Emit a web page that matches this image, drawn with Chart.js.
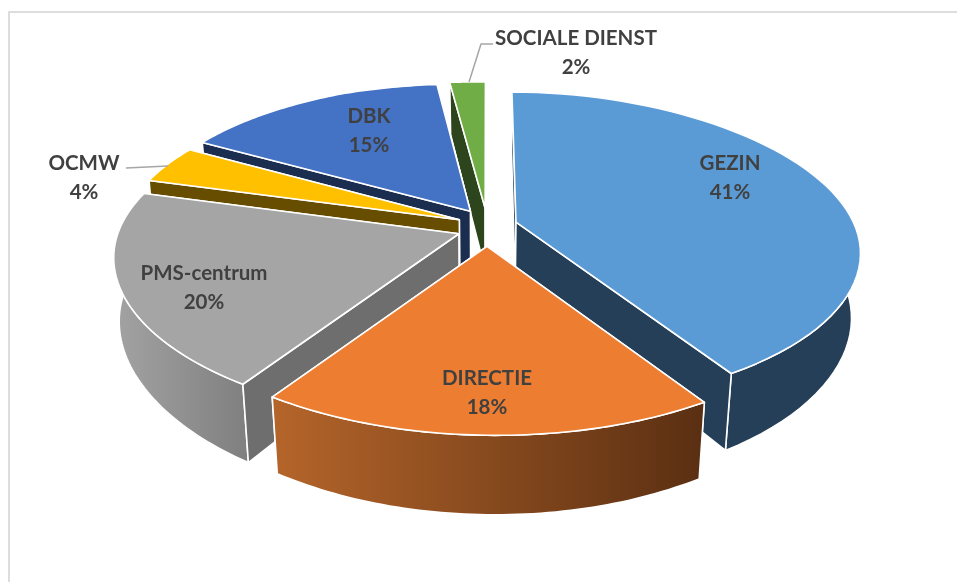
<!DOCTYPE html>
<html>
<head>
<meta charset="utf-8">
<title>Pie 3D</title>
<script src="https://cdn.jsdelivr.net/npm/chart.js@4"></script>
<style>
html, body { margin: 0; padding: 0; background: #fff; }
canvas { display: block; }
</style>
</head>
<body>
<canvas id="myChart" width="957" height="582"></canvas>
<script>
var categories = ['GEZIN', 'DIRECTIE', 'PMS-centrum', 'OCMW', 'DBK', 'SOCIALE DIENST'];
var shares = [41, 18, 20, 4, 15, 2];
var topColors = ['#5B9BD5', '#ED7D31', '#A5A5A5', '#FFC000', '#4472C4', '#70AD47'];

// colours of the sides: rim from left to right, and the cut faces
var rimColors = [['#243F57', '#243F57'], ['#B5652A', '#5A2F12'], ['#A3A3A3', '#7F7F7F'], ['#664D00', '#664D00'], ['#1B2E50', '#1B2E50'], ['#2C451C', '#2C451C']];
var cutColors = ['#243F57', '#5A2F12', '#6E6E6E', '#664D00', '#1B2E50', '#2C451C'];

// centre of each label, first line
var labelSpots = [[730, 163], [487, 378], [204, 273], [84, 163], [369, 116], [576, 38]];

var tilt = 150 / 337;      // vertical squash of the pie plate
var explodeX = 0.089;      // slice explosion, in radii
var explodeY = 0.127;
var perspX = 0.164;
var perspY = 0.184;
var depth = 63;            // wall height at the centre
var shrink = 0.024;        // bottom face is a bit narrower
var stretchRight = 1.012;  // camera sits a little off centre
var skew = 0.012;
var sag = 5;
var frontLift = [6, 0, 6, 0, 0, 0];  // the two big side slices reach further forward

function project(arc, pu, pv, z, lift) {
    var fx = 1 / (1 - perspX * pv);
    var fy = 1 / (1 - perspY * pv);
    var wide = pu > 0 ? stretchRight : 1;
    var narrow = pu > 0 ? shrink : shrink * (0.5 + 0.5 * Math.min(Math.abs(pv), 1));
    var dx = arc.outerRadius * pu * fx * wide;
    return {
        x: arc.x + dx * (1 - narrow * z),
        y: arc.y + arc.outerRadius * tilt * pv * fy + z * depth * fy + skew * dx + sag * Math.max(1 - pv * pv, 0) + lift * (1 + z * 0.7)
    };
}

function tracePoints(ctx, pts) {
    ctx.beginPath();
    pts.forEach(function (p, i) {
        if (i === 0) ctx.moveTo(p.x, p.y);
        else ctx.lineTo(p.x, p.y);
    });
    ctx.closePath();
}

function paint(ctx, pts, fill) {
    tracePoints(ctx, pts);
    ctx.fillStyle = fill;
    ctx.fill();
    ctx.strokeStyle = '#fff';
    ctx.lineWidth = 1.6;
    ctx.lineJoin = 'round';
    ctx.stroke();
}

function area(pts) {
    var s = 0;
    pts.forEach(function (p, i) {
        var q = pts[(i + 1) % pts.length];
        s += p.x * q.y - q.x * p.y;
    });
    return s;
}

function drawSlice(ctx, arc, i) {
    var mid = (arc.startAngle + arc.endAngle) / 2;
    var ou = explodeX * Math.cos(mid), ov = explodeY * Math.sin(mid);
    var steps = 60, top = [], bottom = [];
    for (var s = 0; s <= steps; s++) {
        var a = arc.startAngle + (arc.endAngle - arc.startAngle) * s / steps;
        var front = Math.max(Math.sin(a), 0);
        var lift = frontLift[i] * front * front;
        top.push(project(arc, ou + Math.cos(a), ov + Math.sin(a), 0, lift));
        bottom.push(project(arc, ou + Math.cos(a), ov + Math.sin(a), 1, lift));
    }
    var apexTop = project(arc, ou, ov, 0, 0), apexBottom = project(arc, ou, ov, 1, 0);
    var startFace = [apexTop, top[0], bottom[0], apexBottom];
    var endFace = [apexTop, top[steps], bottom[steps], apexBottom];

    // faces turned away first
    if (area(startFace) > 0) paint(ctx, startFace, cutColors[i]);
    if (area(endFace) < 0) paint(ctx, endFace, cutColors[i]);

    var xs = top.concat(bottom).map(function (p) { return p.x; });
    var grad = ctx.createLinearGradient(Math.min.apply(null, xs), 0, Math.max.apply(null, xs), 0);
    grad.addColorStop(0, rimColors[i][0]);
    grad.addColorStop(1, rimColors[i][1]);
    paint(ctx, top.concat(bottom.slice().reverse()), grad);

    if (area(startFace) <= 0) paint(ctx, startFace, cutColors[i]);
    if (area(endFace) >= 0) paint(ctx, endFace, cutColors[i]);

    paint(ctx, [apexTop].concat(top), arc.options.backgroundColor);
}

function leader(ctx, pts) {
    ctx.beginPath();
    pts.forEach(function (p, i) {
        if (i === 0) ctx.moveTo(p[0], p[1]);
        else ctx.lineTo(p[0], p[1]);
    });
    ctx.strokeStyle = '#A6A6A6';
    ctx.lineWidth = 1.5;
    ctx.stroke();
}

var pie3d = {
    id: 'pie3d',
    beforeDraw: function (chart) {
        var ctx = chart.ctx;
        ctx.save();
        ctx.fillStyle = '#DDDDDD';
        ctx.fillRect(8, 11, 949, 2);
        ctx.fillRect(8, 11, 2, 571);
        ctx.restore();
    },
    // the slices come from the library's arcs, only the projection is ours
    beforeDatasetsDraw: function (chart) {
        var ctx = chart.ctx;
        var arcs = chart.getDatasetMeta(0).data;
        var order = arcs.map(function (a, i) { return i; });
        order.sort(function (m, n) {
            return Math.sin((arcs[m].startAngle + arcs[m].endAngle) / 2) - Math.sin((arcs[n].startAngle + arcs[n].endAngle) / 2);
        });
        ctx.save();
        order.forEach(function (i) { drawSlice(ctx, arcs[i], i); });

        leader(ctx, [[126, 168], [168, 166]]);
        leader(ctx, [[493, 44], [481, 44], [469, 82]]);

        var total = shares.reduce(function (s, v) { return s + v; }, 0);
        ctx.font = 'bold 20.5px Lato, "Noto Sans", sans-serif';
        ctx.fillStyle = '#404040';
        ctx.textAlign = 'center';
        ctx.textBaseline = 'middle';
        categories.forEach(function (name, i) {
            ctx.fillText(name, labelSpots[i][0], labelSpots[i][1]);
            ctx.fillText(Math.round(shares[i] / total * 100) + '%', labelSpots[i][0], labelSpots[i][1] + 29);
        });
        ctx.restore();
        return false;
    }
};

var myChart = new Chart(document.getElementById('myChart').getContext('2d'), {
    type: 'pie',
    data: {
        labels: categories,
        datasets: [{
            data: shares,
            backgroundColor: topColors
        }]
    },
    options: {
        responsive: false,
        animation: false,
        radius: 337,
        layout: { padding: { left: 17, bottom: 138 } },
        plugins: {
            legend: { display: false },
            tooltip: { enabled: false }
        }
    },
    plugins: [pie3d]
});
</script>
</body>
</html>
